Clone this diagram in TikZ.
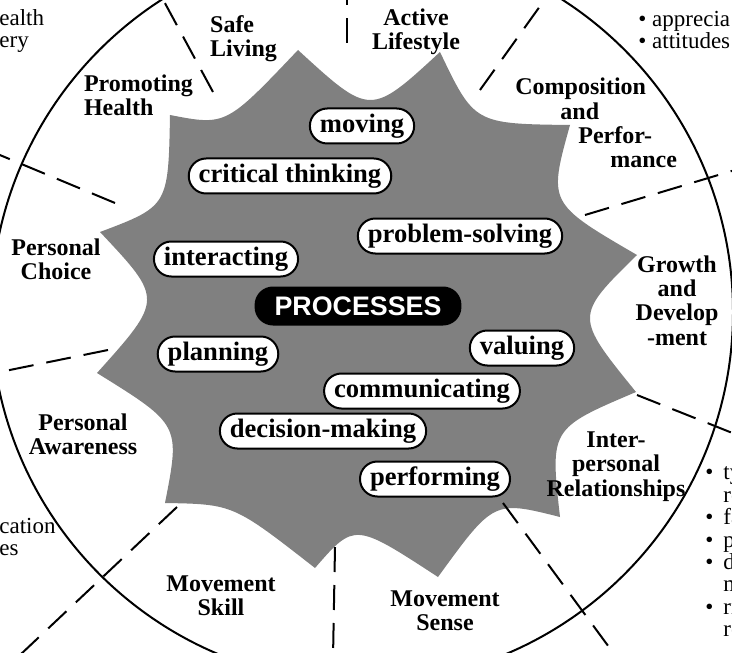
\documentclass[tikz,border=0pt]{standalone}
\usepackage{fontspec}
\setmainfont{Liberation Serif}
\newfontfamily\headfont{Liberation Sans}

\begin{document}
\begin{tikzpicture}[x=0.5pt, y=-0.5pt,
		proc/.style = {
			draw, line width=1pt, fill=white, rounded corners=8.7pt,
			minimum height=17.5pt, inner xsep=5pt, inner ysep=0pt,
			font=\bfseries\fontsize{13.3}{14}\selectfont
		},
		strand/.style = {
			inner sep=0pt, align=center,
			font=\bfseries\fontsize{12}{12.2}\selectfont
		},
		outer/.style = {
			inner sep=0pt, align=left, anchor=west,
			font=\fontsize{11.5}{11.2}\selectfont
		},
		divider/.style = {
			line width=1pt, dash pattern=on 12.5pt off 6.5pt
		}]
	\useasboundingbox (0,0) rectangle (732,652);
	\clip (0,0) rectangle (732,652);
	
	\fill [black!50] (298,50) .. controls (370.3,116.3) .. (440,52)
		.. controls (474.3,123.8) .. (570,125) .. controls (548.2,203.3) .. (637,255)
		.. controls (574.5,316.2) .. (636,392) .. controls (550,428.5) .. (560,517)
		.. controls (493.7,500.3) .. (438,577) .. controls (354.5,522.5) .. (315,568)
		.. controls (233.3,504.2) .. (165,503) .. controls (180.3,424.7) .. (97,373)
		.. controls (163.2,299.2) .. (100,232) .. controls (168.3,206.2) .. (170,115)
		.. controls (226,125.8) .. (298,50) -- cycle;
	
	\draw [line width=1pt] (362,312) circle [radius=371];
	
	\draw [divider] (213,92) -- (160,-6);
	\draw [divider] (347,43) -- (347,-6);
	\draw [divider] (480,90) -- (548,-5);
	\draw [divider] (585,215) -- (745,167);
	\draw [divider] (637,395) -- (745,438);
	\draw [divider] (503,503) -- (617,658);
	\draw [divider] (335,547) -- (333,658);
	\draw [divider] (177,507) -- (20,655);
	\draw [divider] (108,350) -- (-5,373);
	\draw [divider] (115,203) -- (-5,153);
	
	\node (moving) [proc] at (362,126) {moving};
	\node (critical) [proc] at (290,176) {critical thinking};
	\node (problem) [proc] at (460,236) {problem-solving};
	\node (interact) [proc] at (226,259) {interacting};
	\node (processes) [proc, fill=black, text=white, inner xsep=9.5pt, minimum height=18.5pt,
		font=\headfont\bfseries\fontsize{13.4}{14}\selectfont] at (358,306) {PROCESSES};
	\node (planning) [proc] at (218,354) {planning};
	\node (valuing) [proc] at (522,348) {valuing};
	\node (commun) [proc] at (422,391) {communicating};
	\node (decision) [proc] at (323,431) {decision-making};
	\node (perform) [proc] at (435,479) {performing};
	
	\node (safe) [strand, align=left] at (243.5,38.5) {Safe\\Living};
	\node (active) [strand] at (416,32) {Active\\Lifestyle};
	\node (promoting) [strand, align=left] at (138.5,95) {Promoting\\Health};
	\node (compos) [strand, align=left, anchor=west] at (515,123)
		{Composition\\\hspace*{22.5pt}and\\\hspace*{31.5pt}Perfor-\\\hspace*{47.5pt}mance};
	\node (growth) [strand] at (677,300.5) {Growth\\and\\Develop\\-ment};
	\node (interpers) [strand] at (616,466.5) {Inter-\\personal\\Relationships};
	\node (sense) [strand] at (445,610.5) {Movement\\Sense};
	\node (skill) [strand] at (221,595.5) {Movement\\Skill};
	\node (aware) [strand] at (83,434.5) {Personal\\Awareness};
	\node (choice) [strand] at (56,259) {Personal\\Choice};
	
	\node (frag1) [outer] at (-1,31) {ealth\\ery};
	\node (frag2) [outer] at (-1,537) {cation\\es};
	\node (frag3) [outer] at (638,30) {• apprecia\\• attitudes};
	\node (frag4) [outer] at (705,552) {\makebox[9pt][l]{•}ty\\\hspace*{9pt}re\\
		\makebox[9pt][l]{•}fa\\\makebox[9pt][l]{•}po\\\makebox[9pt][l]{•}de\\
		\hspace*{9pt}m\\\makebox[9pt][l]{•}ri\\\hspace*{9pt}re};
\end{tikzpicture}
\end{document}
